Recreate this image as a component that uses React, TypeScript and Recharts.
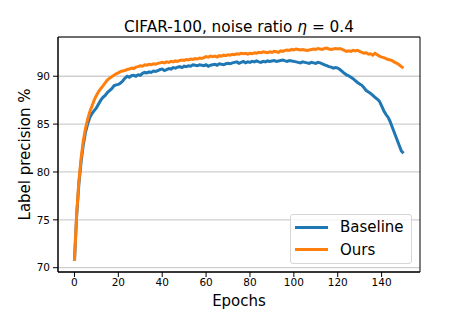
import {
  CartesianGrid,
  Legend,
  Line,
  LineChart,
  ReferenceArea,
  XAxis,
  YAxis,
} from "recharts";

const FONT = "'DejaVu Sans', sans-serif";

const title = "CIFAR-100, noise ratio";
const xTicks = [0, 20, 40, 60, 80, 100, 120, 140];
const yTicks = [70, 75, 80, 85, 90];
const xDomain = [-7.5, 157.5];
const yDomain = [69.55, 94.1];

// label precision per epoch (0..150)
const baseline = [
  70.7, 75.4, 78.7, 81.0, 82.8, 84.1, 85.0, 85.7, 86.1, 86.4,
  86.7, 87.1, 87.5, 87.8, 88.0, 88.3, 88.5, 88.7, 89.0, 89.1,
  89.15, 89.3, 89.5, 89.8, 90.0, 89.9, 90.05, 90.1, 90.0, 90.15,
  90.1, 90.3, 90.4, 90.35, 90.45, 90.4, 90.55, 90.5, 90.6, 90.7,
  90.75, 90.6, 90.7, 90.8, 90.75, 90.9, 90.85, 90.95, 91.0, 90.9,
  91.05, 91.0, 91.1, 91.05, 91.2, 91.15, 91.1, 91.2, 91.15, 91.1,
  91.2, 91.05, 91.15, 91.2, 91.25, 91.15, 91.3, 91.25, 91.2, 91.3,
  91.35, 91.3, 91.4, 91.45, 91.5, 91.35, 91.45, 91.55, 91.4, 91.5,
  91.45, 91.55, 91.5, 91.6, 91.5, 91.45, 91.55, 91.5, 91.6, 91.55,
  91.6, 91.65, 91.55, 91.6, 91.65, 91.7, 91.6, 91.55, 91.65, 91.6,
  91.55, 91.5, 91.45, 91.4, 91.5, 91.45, 91.4, 91.35, 91.45, 91.4,
  91.35, 91.45, 91.4, 91.3, 91.2, 91.1, 91.0, 90.95, 90.85, 90.9,
  90.85, 90.7, 90.5, 90.3, 90.15, 90.05, 89.9, 89.75, 89.55, 89.35,
  89.2, 89.05, 88.8, 88.5, 88.35, 88.2, 88.0, 87.8, 87.6, 87.4,
  86.9, 86.4, 86.0, 85.7, 85.2, 84.6, 84.0, 83.4, 82.8, 82.2,
  81.95,
];

const ours = [
  70.7, 75.6, 79.0, 81.4, 83.2, 84.5, 85.5, 86.3, 86.9, 87.5,
  88.0, 88.4, 88.7, 89.0, 89.3, 89.6, 89.8, 89.95, 90.1, 90.25,
  90.35, 90.5, 90.55, 90.6, 90.7, 90.75, 90.85, 90.8, 90.95, 91.0,
  91.1, 91.05, 91.2, 91.15, 91.25, 91.2, 91.3, 91.25, 91.35, 91.4,
  91.45, 91.4, 91.5, 91.45, 91.55, 91.5, 91.6, 91.55, 91.65, 91.7,
  91.65, 91.75, 91.7, 91.8, 91.75, 91.85, 91.8, 91.9, 91.85, 91.95,
  92.05, 92.0, 92.1, 92.05, 92.1, 92.0, 92.15, 92.1, 92.2, 92.15,
  92.25, 92.2, 92.3, 92.25, 92.35, 92.3, 92.4, 92.35, 92.4, 92.3,
  92.4, 92.35, 92.45, 92.4, 92.5, 92.45, 92.55, 92.5, 92.45, 92.55,
  92.5, 92.6, 92.55, 92.5, 92.65, 92.6, 92.7, 92.75, 92.7, 92.8,
  92.75, 92.85, 92.8, 92.75, 92.8, 92.75, 92.7, 92.75, 92.8, 92.85,
  92.8, 92.9, 92.85, 92.8, 92.9, 92.95, 92.85, 92.8, 92.85, 92.9,
  92.85, 92.9, 92.8, 92.7, 92.6, 92.65, 92.6, 92.7, 92.65, 92.7,
  92.6, 92.5, 92.4, 92.45, 92.3, 92.35, 92.2, 92.4, 92.25, 92.1,
  92.0, 91.95, 91.85, 91.75, 91.7, 91.6, 91.45, 91.35, 91.2, 91.0,
  90.85,
];

const data = baseline.map((b, i) => ({ epoch: i, baseline: b, ours: ours[i] }));

const series = [
  { key: "baseline", name: "Baseline", color: "#1f77b4" },
  { key: "ours", name: "Ours", color: "#ff7f0e" },
];

function TitleLabel({ viewBox }: any) {
  return (
    <text
      x={viewBox.x + viewBox.width / 2}
      y={viewBox.y - 5.5}
      textAnchor="middle"
      fontSize={15.3}
      fontFamily={FONT}
      fill="#000"
    >
      {title} <tspan fontStyle="italic">η</tspan> = 0.4
    </text>
  );
}

function XLabel({ viewBox }: any) {
  return (
    <text
      x={viewBox.x + viewBox.width / 2}
      y={viewBox.y + 34}
      textAnchor="middle"
      fontSize={15}
      fontFamily={FONT}
      fill="#000"
    >
      Epochs
    </text>
  );
}

function YLabel({ viewBox }: any) {
  const x = viewBox.x + 30;
  const y = viewBox.y + viewBox.height / 2;
  return (
    <text
      x={x}
      y={y}
      transform={`rotate(-90, ${x}, ${y})`}
      textAnchor="middle"
      fontSize={15}
      fontFamily={FONT}
      fill="#000"
    >
      Label precision %
    </text>
  );
}

function LegendBox() {
  return (
    <div
      style={{
        width: 122,
        height: 50,
        border: "1px solid #d6d6d6",
        borderRadius: 3,
        background: "rgba(255,255,255,0.8)",
        fontFamily: FONT,
        fontSize: 15,
        lineHeight: "18px",
        color: "#000",
        boxSizing: "border-box",
        paddingTop: 1,
      }}
    >
      {series.map((s) => (
        <div key={s.key} style={{ display: "flex", alignItems: "center", height: 22.5 }}>
          <div style={{ width: 33, height: 3, background: s.color, marginLeft: 4, marginRight: 12 }} />
          <span>{s.name}</span>
        </div>
      ))}
    </div>
  );
}

export default function App() {
  return (
    <div style={{ position: "absolute", left: 0, top: 0, width: 466, height: 311, background: "#fff" }}>
      <LineChart
        width={466}
        height={311}
        data={data}
        margin={{ top: 37, right: 46, bottom: 14, left: 0 }}
      >
        <CartesianGrid vertical={false} stroke="#cfcfcf" strokeWidth={1.3} />
        <XAxis
          dataKey="epoch"
          type="number"
          domain={xDomain}
          ticks={xTicks}
          allowDataOverflow
          height={25}
          tickSize={5}
          tickMargin={2}
          axisLine={{ stroke: "#000", strokeWidth: 1 }}
          tickLine={{ stroke: "#000" }}
          tick={{ fill: "#000", fontSize: 10.5, fontFamily: FONT }}
          label={<XLabel />}
        />
        <YAxis
          type="number"
          domain={yDomain}
          ticks={yTicks}
          allowDataOverflow
          width={58}
          tickSize={5}
          tickMargin={3}
          axisLine={{ stroke: "#000", strokeWidth: 1 }}
          tickLine={{ stroke: "#000" }}
          tick={{ fill: "#000", fontSize: 10.5, fontFamily: FONT }}
          label={<YLabel />}
        />
        {series.map((s) => (
          <Line
            key={s.key}
            type="linear"
            dataKey={s.key}
            name={s.name}
            stroke={s.color}
            strokeWidth={3}
            dot={false}
            isAnimationActive={false}
          />
        ))}
        <ReferenceArea
          x1={xDomain[0]}
          x2={xDomain[1]}
          y1={yDomain[0]}
          y2={yDomain[1]}
          fill="none"
          fillOpacity={0}
          stroke="#000"
          strokeWidth={1}
          ifOverflow="visible"
          label={<TitleLabel />}
        />
        <Legend
          layout="vertical"
          align="center"
          verticalAlign="middle"
          content={<LegendBox />}
          wrapperStyle={{ left: 290, top: 214, width: 122, height: 50 }}
        />
      </LineChart>
    </div>
  );
}
